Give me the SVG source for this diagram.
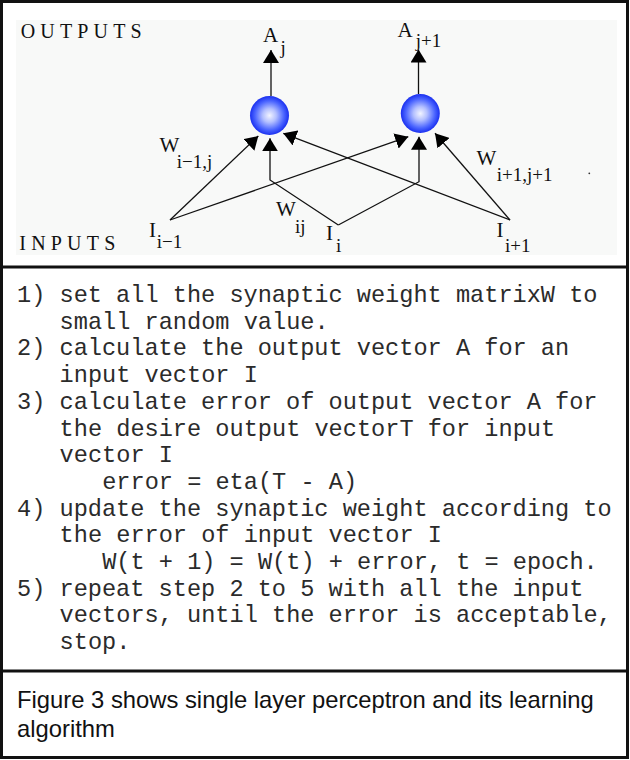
<svg xmlns="http://www.w3.org/2000/svg" width="630" height="760" viewBox="0 0 630 760">
<style>
.serif{font-family:"Liberation Serif","Times New Roman",serif;fill:#111}
.lbl{font-size:21px}
.sub{font-size:19px}
.mono{font-family:"Liberation Mono","Courier New",monospace;font-size:23.6px;fill:#2b2b2b}
.cap{font-family:"Liberation Sans",Arial,sans-serif;font-size:23.8px;fill:#111}
.conn{fill:none;stroke:#111;stroke-width:1.3}
</style>
<defs>
<marker id="ah" viewBox="0 0 13 16" refX="13" refY="8" markerWidth="13" markerHeight="16" markerUnits="userSpaceOnUse" orient="auto">
<path d="M0,0 L13,8 L0,16 Z" fill="#000"/>
</marker>
<radialGradient id="ball" cx="50%" cy="50%" r="50%">
<stop offset="0" stop-color="#f2f4ff"/>
<stop offset="0.35" stop-color="#b4c0ff"/>
<stop offset="0.75" stop-color="#4a64ff"/>
<stop offset="1" stop-color="#1a30f0"/>
</radialGradient>
</defs>
<rect x="0" y="0" width="630" height="760" fill="#fff"/>
<rect x="16" y="20" width="601" height="235" fill="#f8f9f8"/>
<g id="frame" fill="none" stroke="#111" stroke-width="3">
<rect x="1.5" y="1.5" width="626" height="756"/>
<line x1="1.5" y1="267" x2="627.5" y2="267"/>
<line x1="1.5" y1="671" x2="627.5" y2="671"/>
</g>
<text class="serif" x="20.7" y="38.3" font-size="20" textLength="121" lengthAdjust="spacing">OUTPUTS</text>
<text class="serif" x="19.3" y="250" font-size="20" textLength="96" lengthAdjust="spacing">INPUTS</text>
<g id="connectors">
<line class="conn" x1="271" y1="96" x2="271" y2="50" marker-end="url(#ah)"/>
<line class="conn" x1="418.5" y1="94" x2="418.5" y2="49.5" marker-end="url(#ah)"/>
<line class="conn" x1="170" y1="220" x2="258.3" y2="136" marker-end="url(#ah)"/>
<path class="conn" d="M338.3,225 L270,180 L270,138.3" marker-end="url(#ah)"/>
<line class="conn" x1="510" y1="220" x2="283.3" y2="133.3" marker-end="url(#ah)"/>
<line class="conn" x1="170" y1="220" x2="408.3" y2="136.7" marker-end="url(#ah)"/>
<path class="conn" d="M338.3,225 L419,181.7 L419,136.7" marker-end="url(#ah)"/>
<line class="conn" x1="510" y1="220" x2="435" y2="133.3" marker-end="url(#ah)"/>
</g>
<g id="neuron-j">
<circle cx="269.5" cy="115.5" r="19.5" fill="url(#ball)"/>
<text class="serif lbl" x="263" y="41.7">A</text>
<text class="serif sub" x="280.5" y="54">j</text>
</g>
<g id="neuron-j-plus-1">
<circle cx="420.3" cy="113.5" r="19.5" fill="url(#ball)"/>
<text class="serif lbl" x="397.6" y="37.3">A</text>
<text class="serif sub" x="415.7" y="46.5">j+1</text>
</g>
<g id="input-i-minus-1">
<text class="serif lbl" x="149" y="237">I</text>
<text class="serif sub" x="156.7" y="248">i−1</text>
</g>
<g id="input-i">
<text class="serif lbl" x="326" y="240">I</text>
<text class="serif sub" x="336" y="252">i</text>
</g>
<g id="input-i-plus-1">
<text class="serif lbl" x="496.5" y="237">I</text>
<text class="serif sub" x="505" y="252">i+1</text>
</g>
<g id="weight-labels">
<text class="serif lbl" x="159.5" y="151.7">W</text>
<text class="serif sub" x="176.7" y="167.5">i−1,j</text>
<text class="serif lbl" x="276" y="216">W</text>
<text class="serif sub" x="295" y="233">ij</text>
<text class="serif lbl" x="476.5" y="165">W</text>
<text class="serif sub" x="496.7" y="181">i+1,j+1</text>
<circle cx="589.3" cy="173.3" r="0.9" fill="#333"/>
</g>
<g id="algorithm">
<text class="mono" x="17" y="302">1) set all the synaptic weight matrixW to</text>
<text class="mono" x="59.6" y="328.7">small random value.</text>
<text class="mono" x="17" y="355.4">2) calculate the output vector A for an</text>
<text class="mono" x="59.6" y="382.1">input vector I</text>
<text class="mono" x="17" y="408.8">3) calculate error of output vector A for</text>
<text class="mono" x="59.6" y="435.5">the desire output vectorT for input</text>
<text class="mono" x="59.6" y="462.2">vector I</text>
<text class="mono" x="102.2" y="488.9">error = eta(T - A)</text>
<text class="mono" x="17" y="515.6">4) update the synaptic weight according to</text>
<text class="mono" x="59.6" y="542.3">the error of input vector I</text>
<text class="mono" x="102.2" y="569">W(t + 1) = W(t) + error, t = epoch.</text>
<text class="mono" x="17" y="595.7">5) repeat step 2 to 5 with all the input</text>
<text class="mono" x="59.6" y="622.4">vectors, until the error is acceptable,</text>
<text class="mono" x="59.6" y="649.1">stop.</text>
</g>
<g id="caption">
<text class="cap" x="17" y="708">Figure 3 shows single layer perceptron and its learning</text>
<text class="cap" x="17" y="737">algorithm</text>
</g>
</svg>
